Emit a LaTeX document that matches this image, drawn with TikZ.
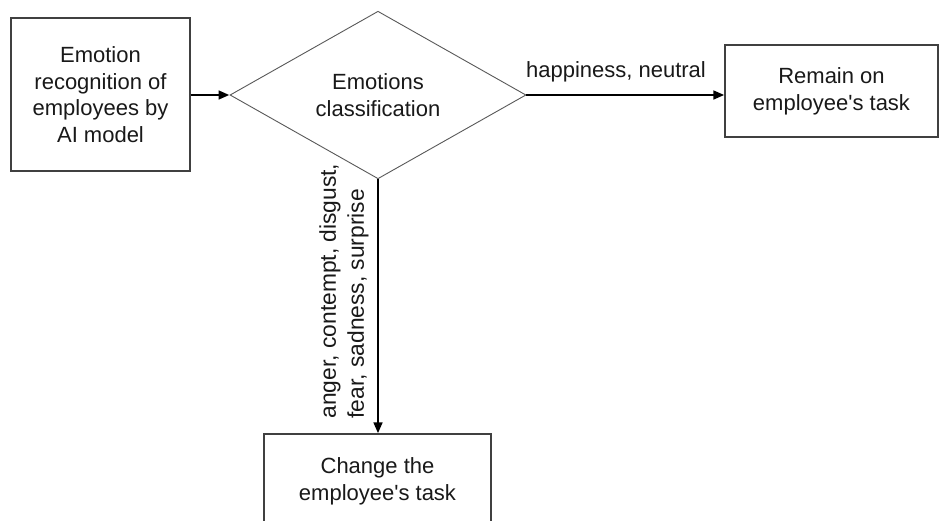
\documentclass[tikz,border=0pt]{standalone}
\usepackage{fontspec}
\setmainfont{Liberation Sans}
\usetikzlibrary{arrows.meta,shapes.geometric}
\newcommand\myfs{\fontsize{22}{26.7}\selectfont}
\begin{document}
\begin{tikzpicture}[x=1pt,y=-1pt,
  box/.style={draw=black!75, line width=1.1pt, align=center, font=\myfs, inner sep=0pt, text=black!90},
  dia/.style={diamond, draw=black!65, line width=0.9pt, align=center, font=\myfs, inner sep=0pt, text=black!90},
  arr/.style={line width=2.8pt, draw=black, -{Triangle[length=11pt,width=8.5pt]}},
  lbl/.style={font=\myfs, inner sep=0pt, text=black!90}]
\useasboundingbox (0,0) rectangle (940,520);
\clip (0,0) rectangle (940,520);
\fill[white] (0,0) rectangle (940,520);

\node[box, minimum width=179pt, minimum height=153pt] (b1) at (100.5,94.5)
  {Emotion\\recognition of\\employees by\\AI model};
\node[dia, minimum width=296pt, minimum height=164pt] (d) at (378,95)
  {Emotions\\classification};
\node[box, minimum width=213pt, minimum height=92pt] (b2) at (831.5,91)
  {Remain on\\employee\textquotesingle s task};
\node[box, minimum width=227pt, minimum height=95pt] (b3) at (377.5,481.5)
  {Change the\\employee\textquotesingle s task};

\draw[arr] (b1.east |- d.west) -- (d.west);
\draw[arr] (d.east) -- (d.east -| b2.west);
\draw[arr] (d.south) -- (d.south |- b3.north);

\node[lbl] (l1) at (616,72) {happiness, neutral};
\node[lbl, rotate=90, align=left, font=\fontsize{22.8}{28}\selectfont] (l2) at (344,291)
  {anger, contempt, disgust,\\fear, sadness, surprise};
\end{tikzpicture}
\end{document}
